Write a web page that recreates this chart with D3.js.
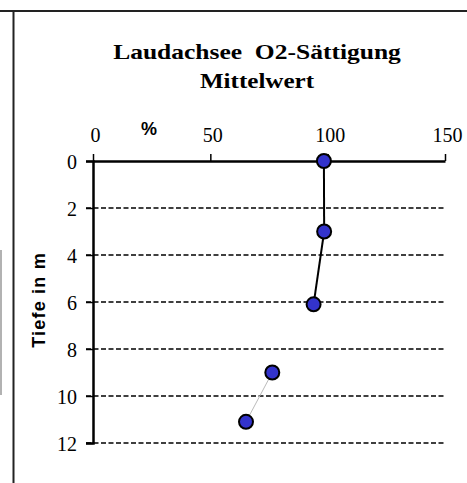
<!DOCTYPE html>
<html><head><meta charset="utf-8">
<script src="https://cdn.jsdelivr.net/npm/d3@7"></script>
<style>body{margin:0;background:#fff}svg{display:block}</style>
</head><body>
<svg id="c" width="467" height="483"></svg>
<script>
const titleLines = ["Laudachsee  O2-Sättigung", "Mittelwert"];
const xLabel = "%";
const yLabel = "Tiefe in m";
const xTicks = [0, 50, 100, 150];
const yTicks = [0, 2, 4, 6, 8, 10, 12];
const depths = [0, 3, 6.1, 9, 11.1];
const saturation = [98.4, 98.5, 94, 76.4, 65.2];
// segment styles between consecutive points: "solid", "none", "thin"
const segmentStyle = ["solid", "solid", "none", "thin"];

const svg = d3.select("#c");
const x = d3.scaleLinear().domain([0, 150]).range([93, 445]);
const y = d3.scaleLinear().domain([0, 12]).range([161, 443]);

// frame
svg.append("line").attr("x1", 0).attr("x2", 467).attr("y1", 11).attr("y2", 11)
  .attr("stroke", "#222").attr("stroke-width", 2);
svg.append("line").attr("x1", 13.5).attr("x2", 13.5).attr("y1", 11).attr("y2", 483)
  .attr("stroke", "#222").attr("stroke-width", 2);
svg.append("line").attr("x1", 1).attr("x2", 1).attr("y1", 250).attr("y2", 395)
  .attr("stroke", "#999").attr("stroke-width", 1.5);

// title
const serif = "Liberation Serif, Times New Roman, serif";
svg.append("text").attr("transform", "translate(257,59) scale(1.16,1)").attr("text-anchor", "middle")
  .attr("font-family", serif).attr("font-weight", "bold")
  .attr("font-size", 22).attr("xml:space", "preserve").style("white-space", "pre").text(titleLines[0]);
svg.append("text").attr("transform", "translate(257,88) scale(1.14,1)").attr("text-anchor", "middle")
  .attr("font-family", serif).attr("font-weight", "bold")
  .attr("font-size", 22).text(titleLines[1]);

// gridlines (dashed)
svg.append("g").selectAll("line").data(yTicks.filter(d => d > 0)).join("line")
  .attr("x1", 86).attr("x2", 445).attr("y1", d => y(d)).attr("y2", d => y(d))
  .attr("stroke", "#000").attr("stroke-width", 1.6).attr("stroke-dasharray", "5,2.5");

// y axis
const yAxis = d3.axisLeft(y).tickValues(yTicks).tickSize(7).tickPadding(9).tickFormat(d3.format("d"));
const gy = svg.append("g").attr("transform", "translate(93,0)").call(yAxis);
gy.select(".domain").attr("stroke", "#000").attr("stroke-width", 2.5);
gy.selectAll(".tick line").attr("stroke", "#000").attr("stroke-width", 1.5);
gy.selectAll(".tick text").attr("font-family", serif)
  .attr("font-size", 20).attr("fill", "#000").attr("dy", "0.35em");

// x axis (top)
const xAxis = d3.axisTop(x).tickValues(xTicks).tickSize(7).tickPadding(12).tickSizeOuter(0);
const gx = svg.append("g").attr("transform", "translate(0,161)").call(xAxis);
gx.select(".domain").attr("stroke", "#000").attr("stroke-width", 2.5);
gx.selectAll(".tick line").attr("stroke", "#000").attr("stroke-width", 1.5);
gx.selectAll(".tick text").attr("font-family", serif)
  .attr("font-size", 20).attr("fill", "#000").attr("dx", 2);

// axis labels
svg.append("text").attr("x", 149).attr("y", 135).attr("text-anchor", "middle")
  .attr("font-family", "Liberation Sans, Arial, sans-serif").attr("font-weight", "bold")
  .attr("font-size", 18).text(xLabel);
svg.append("text").attr("transform", "translate(45,300) rotate(-90)").attr("text-anchor", "middle")
  .attr("font-family", "Liberation Sans, Arial, sans-serif").attr("font-weight", "bold")
  .attr("font-size", 18).attr("letter-spacing", 1.2).text(yLabel);

// line segments
const segs = d3.range(depths.length - 1).map(i => ({
  x1: saturation[i], y1: depths[i], x2: saturation[i + 1], y2: depths[i + 1], s: segmentStyle[i]
})).filter(d => d.s !== "none");
svg.append("g").selectAll("line").data(segs).join("line")
  .attr("x1", d => x(d.x1)).attr("y1", d => y(d.y1))
  .attr("x2", d => x(d.x2)).attr("y2", d => y(d.y2))
  .attr("stroke", d => d.s === "solid" ? "#000" : "#bbb")
  .attr("stroke-width", d => d.s === "solid" ? 2 : 1);

// markers
const pts = depths.map((d, i) => ({ d, v: saturation[i] }));
svg.append("g").selectAll("circle").data(pts).join("circle")
  .attr("cx", p => x(p.v)).attr("cy", p => y(p.d)).attr("r", 7)
  .attr("fill", "#3333CC").attr("stroke", "#000").attr("stroke-width", 2);
</script>
</body></html>
